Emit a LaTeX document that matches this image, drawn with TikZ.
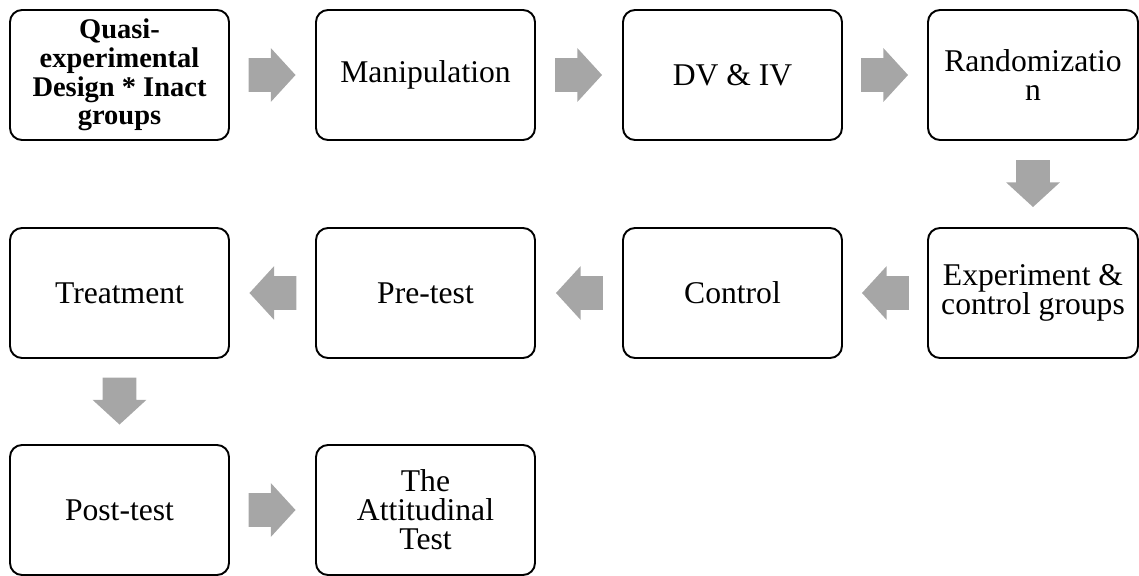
\documentclass[tikz,border=0pt]{standalone}
\usepackage{fontspec}
\setmainfont{Liberation Serif}
\usetikzlibrary{shapes.arrows,calc}
\definecolor{arrowgray}{RGB}{166,166,166}
\begin{document}
\begin{tikzpicture}[
  stepbox/.style={draw,line width=1.1pt,rounded corners=0.24cm,minimum width=4.38cm,
    minimum height=2.6cm,align=center,inner sep=0pt,font=\fontsize{18}{16.6}\selectfont},
  blkarrow/.style={single arrow,fill=arrowgray,draw=none,inner xsep=0pt,inner ysep=0.33cm,
    minimum height=0.94cm,single arrow head extend=0.2cm,single arrow tip angle=95,anchor=tip}]
\useasboundingbox (0,0) rectangle (22.78,-11.52);
\node[stepbox,font=\fontsize{16.2}{16.4}\selectfont\bfseries] (quasi) at (2.39,-1.5)
  {Quasi-\\experimental\\Design * Inact\\groups};
\node[stepbox] (manip) at (8.51,-1.5) {Manipulation};
\node[stepbox] (dviv) at (14.65,-1.5) {DV \& IV};
\node[stepbox,minimum width=4.2cm] (random) at (20.66,-1.5) {Randomizatio\\n};
\node[stepbox,minimum width=4.2cm] (groups) at (20.66,-5.86) {Experiment \&\\control groups};
\node[stepbox] (control) at (14.65,-5.86) {Control};
\node[stepbox] (pretest) at (8.51,-5.86) {Pre-test};
\node[stepbox] (treat) at (2.39,-5.86) {Treatment};
\node[stepbox] (posttest) at (2.39,-10.2) {Post-test};
\node[stepbox] (attit) at (8.51,-10.2) {The\\Attitudinal\\Test};
\node[blkarrow] (a1) at ($(quasi.east)!0.5!(manip.west)!0.47cm!(manip.west)$) {};
\node[blkarrow] (a2) at ($(manip.east)!0.5!(dviv.west)!0.47cm!(dviv.west)$) {};
\node[blkarrow] (a3) at ($(dviv.east)!0.5!(random.west)!0.47cm!(random.west)$) {};
\node[blkarrow,rotate=-90] (a4) at ($(random.south)!0.5!(groups.north)!0.47cm!(groups.north)$) {};
\node[blkarrow,rotate=180] (a5) at ($(groups.west)!0.5!(control.east)!0.47cm!(control.east)$) {};
\node[blkarrow,rotate=180] (a6) at ($(control.west)!0.5!(pretest.east)!0.47cm!(pretest.east)$) {};
\node[blkarrow,rotate=180] (a7) at ($(pretest.west)!0.5!(treat.east)!0.47cm!(treat.east)$) {};
\node[blkarrow,rotate=-90] (a8) at ($(treat.south)!0.5!(posttest.north)!0.47cm!(posttest.north)$) {};
\node[blkarrow] (a9) at ($(posttest.east)!0.5!(attit.west)!0.47cm!(attit.west)$) {};
\end{tikzpicture}
\end{document}
